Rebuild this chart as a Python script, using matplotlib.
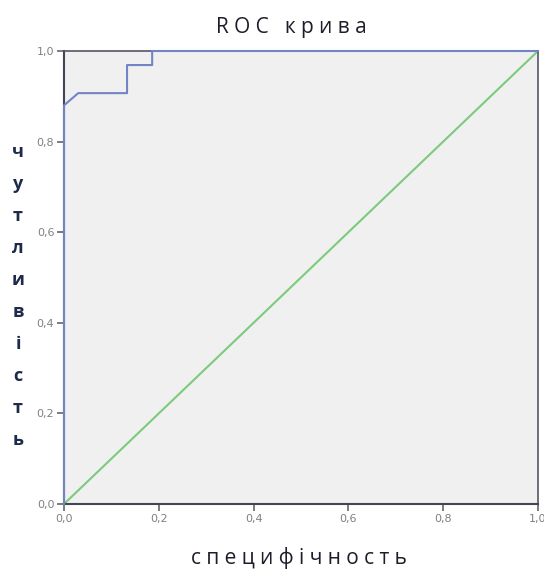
import matplotlib
matplotlib.use("Agg")
import matplotlib.pyplot as plt
from matplotlib.ticker import FuncFormatter

# ROC curve points
fpr = [0.0, 0.0, 0.03, 0.133, 0.133, 0.186, 0.186, 1.0]
tpr = [0.0, 0.88, 0.907, 0.907, 0.969, 0.969, 1.0, 1.0]
ref_x = [0.0, 1.0]
ref_y = [0.0, 1.0]
ticks = [0.0, 0.2, 0.4, 0.6, 0.8, 1.0]

title = "ROC крива"
xlabel = "специфічность"
ylabel = "чутливість"

fig = plt.figure(figsize=(5.44, 5.74), dpi=100)
ax = fig.add_axes([64 / 544, 1 - 504 / 574, 474 / 544, 453 / 574])
ax.set_facecolor("#f0f0f0")

ax.plot(ref_x, ref_y, color="#7ccb7c", lw=1.5, zorder=2)
ax.plot(fpr, tpr, color="#7384c4", lw=1.5, zorder=3, clip_on=False)

ax.set_xlim(0, 1)
ax.set_ylim(0, 1)
ax.set_xticks(ticks)
ax.set_yticks(ticks)
fmt = FuncFormatter(lambda v, p: f"{v:.1f}".replace(".", ","))
ax.xaxis.set_major_formatter(fmt)
ax.yaxis.set_major_formatter(fmt)
ax.tick_params(direction="out", length=5, width=1.2, colors="#666666",
               labelsize=8, labelcolor="#808080", pad=2)

for side in ["left", "bottom"]:
    ax.spines[side].set_color("#444455")
    ax.spines[side].set_linewidth(1.5)
for side in ["top", "right"]:
    ax.spines[side].set_color("#555566")
    ax.spines[side].set_linewidth(1.2)

fam = ["Open Sans", "DejaVu Sans"]
spaced = lambda s: " ".join(s)
fig.text(0.535, 1 - 27 / 574, spaced(title), ha="center", va="center",
         fontsize=15, color="#1e1e2a", family=fam)
fig.text(0.55, 1 - 558 / 574, spaced(xlabel), ha="center", va="center",
         fontsize=15, color="#1e1e2a", family=fam)
fig.text(18 / 544, 1 - 296 / 574, "\n".join(ylabel), ha="center", va="center",
         fontsize=13, color="#1e2a4a", family=fam, fontweight="bold",
         linespacing=2.0)

fig.savefig("out.png", dpi=100)
